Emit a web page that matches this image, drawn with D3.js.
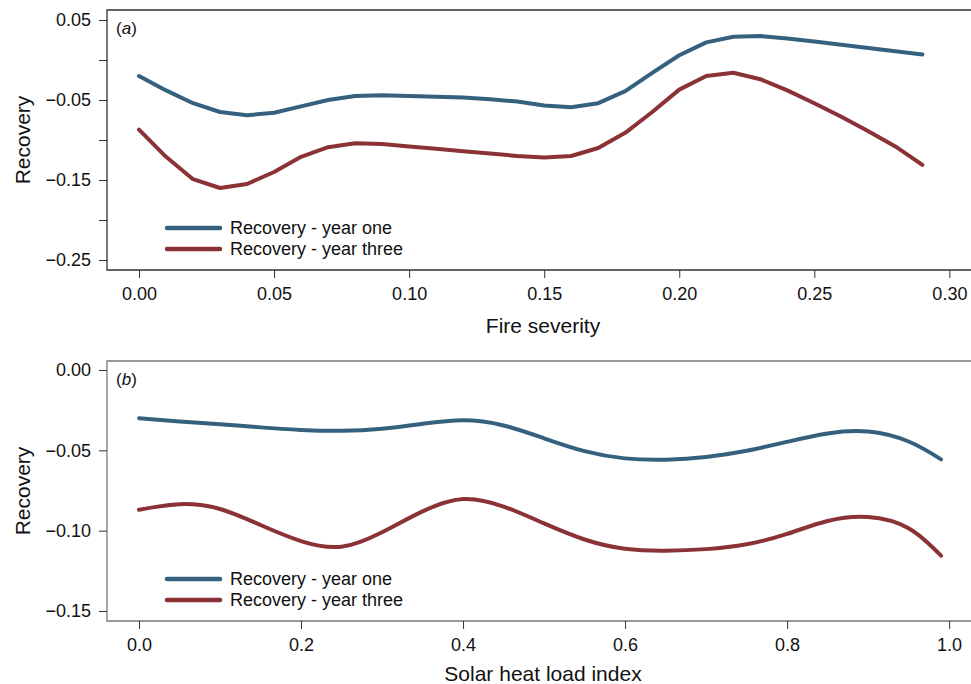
<!DOCTYPE html>
<html lang="en">
<head>
<meta charset="UTF-8">
<title>Recovery vs fire severity and solar heat load</title>
<script src="https://d3js.org/d3.v7.min.js"></script>
<style>
  body { margin: 0; background: #fff; }
  svg { display: block; font-family: "Liberation Sans", Arial, Helvetica, sans-serif; }
  .tick text { font-size: 18px; fill: #111; }
  .axis-title { font-size: 21px; fill: #111; }
  .legend text { font-size: 18px; fill: #111; }
  .series { fill: none; stroke-width: 4px; stroke-linejoin: round; stroke-linecap: round; }
</style>
</head>
<body>
<svg id="chart" width="971" height="684"></svg>
<script>
// panel (a): fire severity
const severity = [0.00, 0.01, 0.02, 0.03, 0.04, 0.05, 0.06, 0.07, 0.08, 0.09,
                  0.10, 0.11, 0.12, 0.13, 0.14, 0.15, 0.16, 0.17, 0.18, 0.19,
                  0.20, 0.21, 0.22, 0.23, 0.24, 0.25, 0.26, 0.27, 0.28, 0.29];
const sevYearOne = [-0.020, -0.038, -0.054, -0.065, -0.069, -0.066, -0.058, -0.050, -0.045, -0.044,
                    -0.045, -0.046, -0.047, -0.049, -0.052, -0.057, -0.059, -0.054, -0.039, -0.016,
                    0.006, 0.022, 0.029, 0.030, 0.027, 0.023, 0.019, 0.015, 0.011, 0.007];
const sevYearThree = [-0.087, -0.121, -0.149, -0.160, -0.155, -0.140, -0.121, -0.109, -0.104, -0.105,
                      -0.108, -0.111, -0.114, -0.117, -0.120, -0.122, -0.120, -0.110, -0.091, -0.065,
                      -0.037, -0.020, -0.016, -0.024, -0.038, -0.054, -0.071, -0.089, -0.108, -0.131];

// panel (b): solar heat load index
const solar = [0.00, 0.05, 0.10, 0.15, 0.20, 0.25, 0.30, 0.35, 0.40, 0.45,
               0.50, 0.55, 0.60, 0.65, 0.70, 0.75, 0.80, 0.85, 0.90, 0.95, 0.99];
const solYearOne = [-0.030, -0.032, -0.0337, -0.0357, -0.0373, -0.0378, -0.0365, -0.0335, -0.0313, -0.0345,
                    -0.0425, -0.0505, -0.0550, -0.0558, -0.0542, -0.0503, -0.0447, -0.0395, -0.0383, -0.0445, -0.0556];
const solYearThree = [-0.087, -0.0835, -0.0865, -0.0965, -0.1065, -0.1100, -0.1010, -0.0880, -0.0803, -0.0850,
                      -0.0955, -0.1055, -0.1113, -0.1125, -0.1115, -0.1085, -0.1020, -0.0940, -0.0915, -0.0985, -0.1156];

const seriesNames = ["Recovery - year one", "Recovery - year three"];
const seriesColors = ["#35617f", "#8b3237"];

const svg = d3.select("#chart");

const panels = [
  {
    label: "a", top: 10, bottom: 270, border: "#333",
    xDomain: [-0.01185, 0.308], yDomain: [-0.2625, 0.0625],
    xTicks: [0, 0.05, 0.10, 0.15, 0.20, 0.25, 0.30], xFmt: d3.format(".2f"),
    yTicks: [-0.25, -0.2, -0.15, -0.1, -0.05, 0, 0.05], yLabelled: [-0.25, -0.15, -0.05, 0.05],
    yFmt: d3.format(".2f"),
    xTitle: "Fire severity", xTitleY: 333,
    x: severity, series: [sevYearOne, sevYearThree], curve: d3.curveLinear
  },
  {
    label: "b", top: 361, bottom: 621, border: "#777",
    xDomain: [-0.0395, 1.027], yDomain: [-0.15625, 0.005625],
    xTicks: [0, 0.2, 0.4, 0.6, 0.8, 1.0], xFmt: d3.format(".1f"),
    yTicks: [-0.15, -0.10, -0.05, 0], yLabelled: [-0.15, -0.10, -0.05, 0],
    yFmt: d3.format(".2f"),
    xTitle: "Solar heat load index", xTitleY: 681,
    x: solar, series: [solYearOne, solYearThree], curve: d3.curveNatural
  }
];

const left = 107, right = 971;

panels.forEach(p => {
  const x = d3.scaleLinear().domain(p.xDomain).range([left, right]);
  const y = d3.scaleLinear().domain(p.yDomain).range([p.bottom, p.top]);
  const g = svg.append("g");

  // frame (right side runs off the canvas)
  g.append("path")
    .attr("d", `M${right + 2},${p.top}H${left}V${p.bottom}H${right + 2}`)
    .attr("fill", "none").attr("stroke", p.border).attr("stroke-width", 1.3);

  // x axis
  const xAxis = g.append("g")
    .attr("transform", `translate(0,${p.bottom})`)
    .call(d3.axisBottom(x).tickValues(p.xTicks).tickFormat(p.xFmt).tickSize(8).tickPadding(9));
  xAxis.select(".domain").remove();
  xAxis.selectAll(".tick line").attr("stroke", "#333");

  // y axis
  const yAxis = g.append("g")
    .attr("transform", `translate(${left},0)`)
    .call(d3.axisLeft(y).tickValues(p.yTicks)
      .tickFormat(d => p.yLabelled.some(v => Math.abs(v - d) < 1e-9) ? p.yFmt(d).replace("-", "\u2212") : "")
      .tickSize(8).tickPadding(8));
  yAxis.select(".domain").remove();
  yAxis.selectAll(".tick line").attr("stroke", "#333");

  // titles
  g.append("text").attr("class", "axis-title")
    .attr("x", 543).attr("y", p.xTitleY).attr("text-anchor", "middle")
    .text(p.xTitle);
  g.append("text").attr("class", "axis-title")
    .attr("transform", `translate(30,${(p.top + p.bottom) / 2}) rotate(-90)`)
    .attr("text-anchor", "middle")
    .text("Recovery");

  // panel label
  const lab = g.append("text").attr("x", 116).attr("y", p.top + 24)
    .attr("font-size", 17).attr("fill", "#111");
  lab.append("tspan").text("(");
  lab.append("tspan").attr("font-style", "italic").text(p.label);
  lab.append("tspan").text(")");

  // series
  const line = d3.line().x((d, i) => x(p.x[i])).y(d => y(d)).curve(p.curve);
  p.series.forEach((s, k) => {
    g.append("path").attr("class", "series")
      .attr("stroke", seriesColors[k])
      .attr("d", line(s));
  });

  // legend
  const leg = g.append("g").attr("class", "legend");
  seriesNames.forEach((name, k) => {
    const ly = p.bottom - 42 + k * 21;
    leg.append("line").attr("x1", 167).attr("x2", 220).attr("y1", ly).attr("y2", ly)
      .attr("stroke", seriesColors[k]).attr("stroke-width", 4.5).attr("stroke-linecap", "round");
    leg.append("text").attr("x", 230).attr("y", ly).attr("dy", "0.35em").text(name);
  });
});
</script>
</body>
</html>
